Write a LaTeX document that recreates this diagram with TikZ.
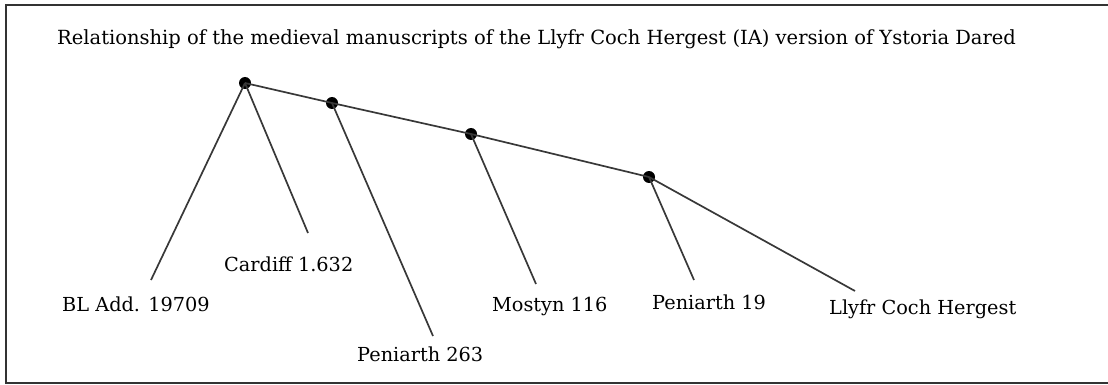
\documentclass[tikz,border=0pt]{standalone}
\usepackage{fontspec}
\setmainfont{DejaVu Serif}
\begin{document}
\begin{tikzpicture}[x=1pt,y=-1pt,
  branch/.style={draw=black!78,line width=1.7pt},
  knot/.style={circle,fill=black,inner sep=0pt,minimum size=12pt},
  label/.style={anchor=base west,inner sep=0pt,font=\fontsize{19.3}{22}\selectfont},
  frame/.style={draw=black!80,line width=2pt}]
\useasboundingbox (0,0) rectangle (1108,385);
% outer frame, open on the right
\draw[frame] (1108,5) -- (6,5) -- (6,383) -- (1108,383);
% title
\node[label,font=\fontsize{19.5}{22}\selectfont] (title) at (57,45)
  {Relationship of the medieval manuscripts of the Llyfr Coch Hergest (IA) version of Ystoria Dared};
% branching points of the stemma
\node[knot] (root) at (245,83) {};
\node[knot] (b2) at (332,103) {};
\node[knot] (b3) at (471,134) {};
\node[knot] (b4) at (649,177) {};
% ends of the leaf branches
\coordinate (eBL) at (151,280);
\coordinate (eCa) at (308,233);
\coordinate (eP263) at (433,336);
\coordinate (eMo) at (536,284);
\coordinate (eP19) at (694,280);
\coordinate (eLl) at (855,291);
% manuscript names
\node[label] (BL) at (62,311) {BL Add. 19709};
\node[label] (Ca) at (224,271) {Cardiff 1.632};
\node[label] (P263) at (357,361) {Peniarth 263};
\node[label] (Mo) at (492,311) {Mostyn 116};
\node[label] (P19) at (652,309) {Peniarth 19};
\node[label] (Ll) at (829,314) {Llyfr Coch Hergest};
% branches
\draw[branch] (root.center) -- (b2.center) -- (b3.center) -- (b4.center);
\draw[branch] (root.center) -- (eBL);
\draw[branch] (root.center) -- (eCa);
\draw[branch] (b2.center) -- (eP263);
\draw[branch] (b3.center) -- (eMo);
\draw[branch] (b4.center) -- (eP19);
\draw[branch] (b4.center) -- (eLl);
\end{tikzpicture}
\end{document}
